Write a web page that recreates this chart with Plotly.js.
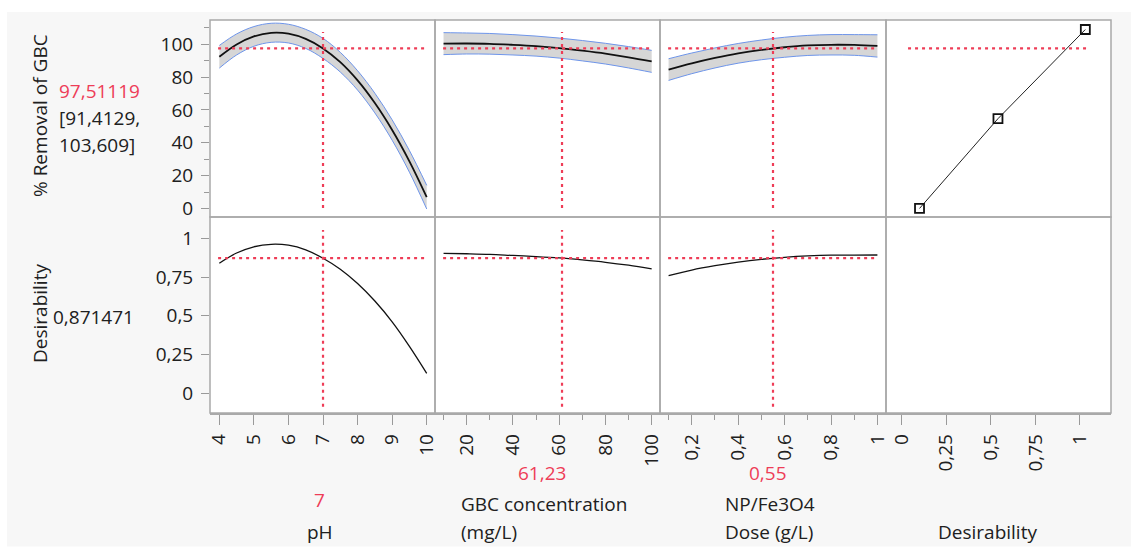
<!DOCTYPE html>
<html><head><meta charset="utf-8">
<script src="https://cdn.plot.ly/plotly-3.0.1.min.js"></script>
<style>html,body{margin:0;padding:0;background:#fff}</style>
</head><body><div id="chart" style="width:1131px;height:548px"></div>
<script>
// ---------- data ----------
const phX = [4,4.5,5,5.5,6,6.5,7,7.5,8,8.5,9,9.5,10];
const phRemoval = [92.4,99.9,104.8,107.0,106.5,103.3,97.5,89.1,78.0,64.2,47.8,28.7,6.9];
const phUpper = [99.3,106.3,110.8,112.8,112.2,109.1,103.6,95.1,83.9,70.2,54.0,35.3,14.1];
const phLower = [85.5,93.5,98.8,101.2,100.8,97.5,91.4,83.1,72.1,58.2,41.6,22.1,-0.3];
const phDesir = [0.839,0.905,0.945,0.961,0.955,0.925,0.871,0.800,0.708,0.595,0.461,0.303,0.129];

const gbcX = [10,20,30,40,50,60,70,80,90,100];
const gbcRemoval = [100.4,100.5,100.3,99.7,98.9,97.7,96.1,94.3,92.1,89.6];
const gbcUpper = [107.1,106.9,106.6,105.9,105.0,103.8,102.3,100.6,98.6,96.3];
const gbcLower = [93.7,94.1,94.0,93.5,92.8,91.6,89.9,88.0,85.6,82.9];
const gbcDesir = [0.903,0.900,0.896,0.889,0.882,0.873,0.860,0.845,0.826,0.803];

const doseX = [0.1,0.2,0.3,0.4,0.5,0.6,0.7,0.8,0.9,1.0];
const doseRemoval = [84.6,88.4,91.7,94.5,96.6,98.2,99.3,99.7,99.6,99.0];
const doseUpper = [91.2,94.7,97.8,100.5,102.6,104.3,105.4,105.9,105.9,105.8];
const doseLower = [78.0,82.1,85.6,88.5,90.6,92.1,93.2,93.5,93.3,92.2];
const doseDesir = [0.759,0.795,0.823,0.846,0.864,0.877,0.886,0.891,0.891,0.892];

const desirX = [0.1,0.54,1.03];
const desirY = [0,54.7,109];

const currentPH = 7, currentGBC = 61.23, currentDose = 0.55;
const predRemoval = 97.51119, predDesir = 0.871471;
const predText = "97,51119", ciText1 = "[91,4129,", ciText2 = "103,609]", desirText = "0,871471";
const phText = "7", gbcText = "61,23", doseText = "0,55";

// ---------- layout helpers ----------
const W = 1131, H = 548;
const px = x => x / W, py = y => 1 - y / H;
const cols = [[210,435],[435,660],[660,886],[886,1111]];
const rowTop = [20,217], rowBot = [217,413];
const xRanges = [[3.73,10.24],[6.3,103.6],[0.063,1.037],[-0.088,1.174]];
const yTopRange = [-5.2,114.8], yBotRange = [-0.127,1.137];
const RED = '#ee3d57', TXT = '#202020', BORDER = '#a9a9a9', TICK = '#9a9a9a';
const FONT = 'Open Sans, Noto Sans, sans-serif';
const FS = 19;

const layout = {
  width: W, height: H,
  margin: {l:0,r:0,t:0,b:0},
  paper_bgcolor: '#f7f7f7', plot_bgcolor: '#ffffff',
  showlegend: false,
  separators: ', ',
  font: {family: FONT, size: FS, color: TXT},
  shapes: [], annotations: []
};
const xDticks = [1,20,0.2,0.25];
const xMinor = [null,10,0.1,null];
const xTick0 = [4,0,0,0];

for (let c = 0; c < 4; c++) {
  const dom = [px(cols[c][0]), px(cols[c][1])];
  const iT = c + 1, iB = c + 5;
  layout['xaxis' + iT] = {domain: dom, range: xRanges[c], anchor: 'y' + iT, showticklabels: false,
    ticks: '', showgrid: false, zeroline: false, showline: false, fixedrange: true};
  layout['yaxis' + iT] = {domain: [py(rowTop[1]), py(rowTop[0])], range: yTopRange, anchor: 'x' + iT,
    showgrid: false, zeroline: false, showline: false, fixedrange: true,
    showticklabels: c === 0, ticks: c === 0 ? 'outside' : '', ticklen: 8, tickwidth: 1, tickcolor: TICK,
    tickmode: 'linear', tick0: 0, dtick: 20, ticklabelstandoff: 4,
    minor: c === 0 ? {dtick: 10, ticklen: 5, tickcolor: TICK, ticks: 'outside'} : undefined,
    tickfont: {family: FONT, size: FS, color: TXT}};
  const xa = {domain: dom, range: xRanges[c], anchor: 'y' + iB, showgrid: false, zeroline: false,
    showline: true, linecolor: BORDER, linewidth: 1.5, fixedrange: true,
    ticks: 'outside', ticklen: 10, tickwidth: 1, tickcolor: TICK, tickangle: -90,
    tickmode: 'linear', tick0: xTick0[c], dtick: xDticks[c], ticklabelstandoff: 2,
    tickfont: {family: FONT, size: FS, color: TXT}};
  if (xMinor[c]) xa.minor = {dtick: xMinor[c], ticklen: 5, tickcolor: TICK, ticks: 'outside'};
  layout['xaxis' + iB] = xa;
  layout['yaxis' + iB] = {domain: [py(rowBot[1]), py(rowBot[0])], range: yBotRange, anchor: 'x' + iB,
    showgrid: false, zeroline: false, showline: false, fixedrange: true,
    showticklabels: c === 0, ticks: c === 0 ? 'outside' : '', ticklen: 8, tickwidth: 1, tickcolor: TICK,
    tickmode: 'linear', tick0: 0, dtick: 0.25, ticklabelstandoff: 4,
    tickfont: {family: FONT, size: FS, color: TXT}};
  for (const r of [rowTop, rowBot]) {
    layout.shapes.push({type: 'rect', xref: 'paper', yref: 'paper',
      x0: px(cols[c][0]), x1: px(cols[c][1]), y0: py(r[1]), y1: py(r[0]),
      line: {color: BORDER, width: 1.5}, fillcolor: 'rgba(0,0,0,0)', layer: 'above'});
  }
}
layout.shapes.push({type:'rect', xref:'paper', yref:'paper', x0:0, x1:1, y0:py(12), y1:1, line:{width:0}, fillcolor:'#ffffff', layer:'below'});
layout.shapes.push({type:'rect', xref:'paper', yref:'paper', x0:0, x1:px(7), y0:0, y1:1, line:{width:0}, fillcolor:'#ffffff', layer:'below'});
layout.shapes.push({type:'rect', xref:'paper', yref:'paper', x0:0, x1:1, y0:0, y1:py(546.5), line:{width:0}, fillcolor:'#ffffff', layer:'below'});

const dotLine = {color: RED, width: 2.2, dash: '3px,4px'};
const currents = [currentPH, currentGBC, currentDose];
for (let c = 0; c < 3; c++) {
  layout.shapes.push({type:'line', xref:'x'+(c+1)+' domain', yref:'y'+(c+1), x0:0.036, x1:0.956, y0:predRemoval, y1:predRemoval, line:dotLine});
  layout.shapes.push({type:'line', xref:'x'+(c+5)+' domain', yref:'y'+(c+5), x0:0.036, x1:0.956, y0:predDesir, y1:predDesir, line:dotLine});
  layout.shapes.push({type:'line', xref:'x'+(c+1), yref:'y'+(c+1)+' domain', x0:currents[c], x1:currents[c], y0:0.046, y1:0.939, line:dotLine});
  layout.shapes.push({type:'line', xref:'x'+(c+5), yref:'y'+(c+5)+' domain', x0:currents[c], x1:currents[c], y0:0.032, y1:0.934, line:dotLine});
}
layout.shapes.push({type:'line', xref:'x4 domain', yref:'y4', x0:0.098, x1:0.893, y0:predRemoval, y1:predRemoval, line:dotLine});

const traces = [];
const BLUE = '#6e95ea', BAND = 'rgba(200,200,200,0.75)';
const sets = [[phX,phRemoval,phUpper,phLower,phDesir],[gbcX,gbcRemoval,gbcUpper,gbcLower,gbcDesir],[doseX,doseRemoval,doseUpper,doseLower,doseDesir]];
sets.forEach((s, c) => {
  const xa = 'x' + (c+1), ya = 'y' + (c+1);
  traces.push({x: s[0], y: s[2], xaxis: xa, yaxis: ya, mode: 'lines', line: {color: BLUE, width: 1, shape: 'spline'}, hoverinfo: 'skip'});
  traces.push({x: s[0], y: s[3], xaxis: xa, yaxis: ya, mode: 'lines', fill: 'tonexty', fillcolor: BAND, line: {color: BLUE, width: 1, shape: 'spline'}, hoverinfo: 'skip'});
  traces.push({x: s[0], y: s[1], xaxis: xa, yaxis: ya, mode: 'lines', line: {color: '#111', width: 1.8, shape: 'spline'}});
  traces.push({x: s[0], y: s[4], xaxis: 'x' + (c+5), yaxis: 'y' + (c+5), mode: 'lines', line: {color: '#111', width: 1.3, shape: 'spline'}});
});
traces.push({x: desirX, y: desirY, xaxis: 'x4', yaxis: 'y4', mode: 'lines+markers',
  line: {color: '#222', width: 1}, marker: {symbol: 'square-open', size: 9, color: '#111', line: {width: 1.8}}});
// empty bottom-right panel (keeps its axis and white background)
traces.push({x: [null], y: [null], xaxis: 'x8', yaxis: 'y8', mode: 'lines', hoverinfo: 'skip'});

function ann(text, x, y, opts) {
  layout.annotations.push(Object.assign({text, xref:'paper', yref:'paper', x: px(x), y: py(y),
    showarrow: false, xanchor: 'center', yanchor: 'middle', font: {family: FONT, size: FS, color: TXT}}, opts || {}));
}
ann('% Removal of GBC', 40, 116, {textangle: -90});
ann(predText, 57, 91, {xanchor: 'left', font: {family: FONT, size: FS, color: RED}});
ann(ciText1, 57, 118, {xanchor: 'left'});
ann(ciText2, 57, 145, {xanchor: 'left'});
ann('Desirability', 40, 314, {textangle: -90});
ann(desirText, 51, 317, {xanchor: 'left'});
ann(phText, 319, 500, {font: {family: FONT, size: FS, color: RED}});
ann('pH', 320, 532);
ann(gbcText, 542, 473, {font: {family: FONT, size: FS, color: RED}});
ann('GBC concentration', 459, 504, {xanchor: 'left'});
ann('(mg/L)', 459, 532, {xanchor: 'left'});
ann(doseText, 768, 473, {font: {family: FONT, size: FS, color: RED}});
ann('NP/Fe3O4', 723, 504, {xanchor: 'left'});
ann('Dose (g/L)', 723, 532, {xanchor: 'left'});
ann('Desirability', 987, 532);

Plotly.newPlot('chart', traces, layout, {displayModeBar: false, staticPlot: true});
</script>
</body></html>
